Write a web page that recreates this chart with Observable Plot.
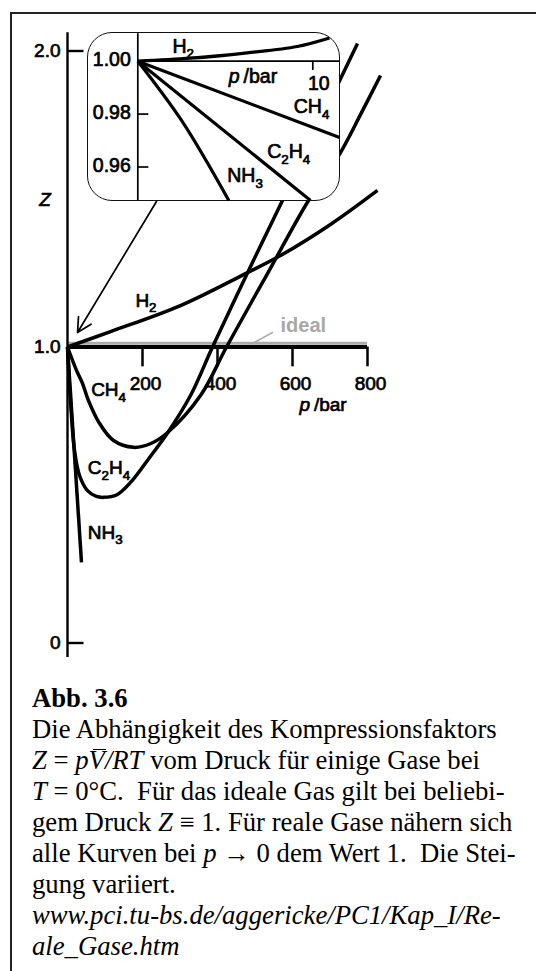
<!DOCTYPE html>
<html>
<head>
<meta charset="utf-8">
<script src="https://cdn.jsdelivr.net/npm/d3@7"></script>
<script src="https://cdn.jsdelivr.net/npm/@observablehq/plot@0.6"></script>
<style>
  html, body { margin: 0; padding: 0; background: white; overflow: hidden; }
  #root { position: relative; width: 536px; height: 971px; overflow: hidden; }
  #frame { position: absolute; left: 10px; top: 12px; width: 700px; height: 1100px;
           border-top: 2px solid #222; border-left: 2px solid #222; box-sizing: border-box; }
  #insetBox { position: absolute; left: 86.7px; top: 32.3px; width: 253.5px; height: 169px;
              border: 1.7px solid #111; border-radius: 25px; background: white; box-sizing: border-box; }
  svg { position: absolute; left: 0; top: 0; }
  #caption { position: absolute; left: 32px; top: 682.5px; font-family: 'Liberation Serif', 'Times New Roman', serif;
             font-size: 26.7px; line-height: 31px; color: #000; }
  #caption div { white-space: pre; height: 31px; }
  .vbar { position: relative; display: inline-block; }
  .vbar::after { content: ""; position: absolute; left: 4px; right: -1px; top: 4px; border-top: 1.4px solid #000; }
</style>
</head>
<body>
<div id="root">
  <div id="frame"></div>
</div>
<script>
// ---------- data: main chart (p in bar, Z dimensionless) ----------
const pressureTicks = [200, 400, 600, 800];
const zTicks = [0, 1, 2];
const zTickLabels = ["0", "1.0", "2.0"];

const h2P   = [0, 114.7, 301.3, 474.7, 568, 701.3, 826.7];
const h2Z   = [1, 1.052, 1.140, 1.248, 1.309, 1.414, 1.529];

const ch4P  = [0, 24, 40, 56, 85.3, 122.7, 176, 222.4, 268, 354.7, 424, 533.3, 642.7, 728, 781.3, 834.7];
const ch4Z  = [1, 0.921, 0.877, 0.819, 0.742, 0.684, 0.661, 0.674, 0.712, 0.836, 1.0, 1.248, 1.495, 1.657, 1.785, 1.917];

const c2h4P = [0, 8, 18.7, 32, 53.3, 77.3, 96, 130.7, 170, 218, 268, 328, 386.7, 482.7, 573.3, 650.7, 729.3, 773.3];
const c2h4Z = [1, 0.819, 0.650, 0.566, 0.515, 0.495, 0.492, 0.500, 0.545, 0.625, 0.712, 0.836, 1.0, 1.258, 1.495, 1.701, 1.910, 2.025];

const nh3P  = [0, 37.3];
const nh3Z  = [1, 0.272];

const gasNames  = ["H2", "CH4", "C2H4", "NH3"];
const labelP    = [181, 63, 54, 54];
const labelZ    = [1.157, 0.854, 0.591, 0.373];

const arrowP = [237.3, 26.7];
const arrowZ = [1.4916, 1.049];

const idealLabelP = 568, idealLabelZ = 1.0726;
const idealPointerP = [546.7, 493.3];
const idealPointerZ = [1.049, 1.0118];

// ---------- data: inset (p up to ~11 bar, Z near 1) ----------
const insetPTicks = [10];
const insetZTicks = [1.00, 0.98, 0.96];

const h2InsetP   = [0, 3.01, 6.25, 9.11, 10.95];
const h2InsetZ   = [1, 1.00113, 1.00318, 1.00556, 1.00880];
const ch4InsetP  = [0, 11.53];
const ch4InsetZ  = [1, 0.97115];
const c2h4InsetP = [0, 9.87];
const c2h4InsetZ = [1, 0.94733];
const nh3InsetP  = [0, 2.5, 5.2];
const nh3InsetZ  = [1, 0.9776, 0.94733];

const insetLabelP = [1.98, 8.91, 7.39, 5.11];
const insetLabelZ = [1.00556, 0.98268, 0.9656, 0.9566];
const insetAxisLabelP = 5.2, insetAxisLabelZ = 0.99422;

// ---------- helpers ----------
const zip = (P, Z) => P.map((p, i) => ({p, z: Z[i]}));
const sans = "'Liberation Sans', Arial, Helvetica, sans-serif";
const NS = "http://www.w3.org/2000/svg";
const ink = {fill: "black", stroke: "black", strokeWidth: 0.7};

function formatTexts(svg) {
  svg.querySelectorAll("text").forEach(t => {
    const s = t.textContent;
    const fs = parseFloat(t.getAttribute("font-size")) || parseFloat(getComputedStyle(t).fontSize) || 18;
    if (/^([A-Z][a-z]?\d*)+$/.test(s) && /\d/.test(s)) {
      t.textContent = "";
      let shifted = 0;
      for (const part of s.match(/[A-Za-z]+|\d+/g)) {
        const ts = document.createElementNS(NS, "tspan");
        ts.textContent = part;
        const sub = /\d/.test(part);
        const target = sub ? fs * 0.3 : 0;
        ts.setAttribute("dy", target - shifted);
        shifted = target;
        if (sub) ts.setAttribute("font-size", fs * 0.74);
        t.appendChild(ts);
      }
    } else if (s === "p/bar") {
      t.textContent = "";
      const a = document.createElementNS(NS, "tspan");
      a.textContent = "p"; a.setAttribute("font-style", "italic");
      const b = document.createElementNS(NS, "tspan");
      b.textContent = "\u2009/bar";
      t.appendChild(a); t.appendChild(b);
    }
  });
}

const lineOpts = {x: "p", y: "z", stroke: "black", strokeWidth: 3.5, curve: "catmull-rom", strokeLinecap: "butt"};

// ---------- main chart ----------
const main = Plot.plot({
  width: 536,
  height: 680,
  x: {domain: [0, 800], range: [67, 367], axis: null},
  y: {domain: [0, 2], range: [642.5, 50.5], axis: null},
  style: {background: "none", fontFamily: sans, overflow: "visible"},
  marks: [
    // ideal gas line (gray) and x axis (black)
    Plot.ruleY([1], {x1: 0, x2: 800, stroke: "#aaaaaa", strokeWidth: 3, dy: -3.8}),
    Plot.ruleY([1], {x1: 0, x2: 800, stroke: "black", strokeWidth: 3.8}),
    // y axis
    Plot.ruleX([0], {y1: -0.049, y2: 2.062, stroke: "black", strokeWidth: 2.4}),
    Plot.ruleY([0, 2], {x1: 0, x2: 44, stroke: "black", strokeWidth: 2.4}),
    Plot.text(zTicks, {x: 0, y: d => d, text: (d, i) => zTickLabels[i], dx: -7, textAnchor: "end",
                       fontSize: 19, ...ink}),
    // x ticks
    Plot.ruleX(pressureTicks, {y1: 1, y2: 0.933, stroke: "black", strokeWidth: 2.5}),
    Plot.text(pressureTicks, {x: d => d, y: 0.877, text: d => String(d), dx: 3, fontSize: 19, ...ink}),
    // curves
    Plot.line(zip(h2P, h2Z), lineOpts),
    Plot.line(zip(ch4P, ch4Z), lineOpts),
    Plot.line(zip(c2h4P, c2h4Z), lineOpts),
    Plot.line(zip(nh3P, nh3Z), {...lineOpts, curve: "linear"}),
    // labels
    Plot.text(gasNames, {x: (d, i) => labelP[i], y: (d, i) => labelZ[i], text: d => d, textAnchor: "start",
                         fontSize: 19, ...ink}),
    Plot.text(["p/bar"], {x: 618.7, y: 0.806, text: d => d, textAnchor: "start", fontSize: 19, ...ink}),
    Plot.text(["Z"], {x: -60, y: 1.498, text: d => d, fontStyle: "italic", fontSize: 19, ...ink}),
    // ideal label
    Plot.line(zip(idealPointerP, idealPointerZ), {x: "p", y: "z", stroke: "#aaaaaa", strokeWidth: 1.6}),
    Plot.text(["ideal"], {x: idealLabelP, y: idealLabelZ, text: d => d, textAnchor: "start",
                          fontSize: 20, fontWeight: "bold", fill: "#a8a8a8"}),
    // arrow from inset to origin
    Plot.arrow([{p1: arrowP[0], z1: arrowZ[0], p2: arrowP[1], z2: arrowZ[1]}],
               {x1: "p1", y1: "z1", x2: "p2", y2: "z2", stroke: "black", strokeWidth: 1.7, headLength: 14, headAngle: 55})
  ]
});
formatTexts(main);

// ---------- inset ----------
const insetLine = {x: "p", y: "z", stroke: "black", strokeWidth: 3.2, curve: "catmull-rom", strokeLinecap: "butt"};
const inset = Plot.plot({
  width: 536,
  height: 215,
  x: {domain: [0, 10], range: [137.3, 312.3], axis: null},
  y: {domain: [0.96, 1.0], range: [166.5, 60.7], axis: null},
  style: {background: "none", fontFamily: sans, overflow: "visible"},
  marks: [
    Plot.ruleX([0], {y1: 1.0104, y2: 0.9472, stroke: "black", strokeWidth: 1.7}),
    Plot.ruleY([1], {x1: 0, x2: 11.54, stroke: "black", strokeWidth: 1.7}),
    Plot.ruleX(insetPTicks, {y1: 1, y2: 0.9965, stroke: "black", strokeWidth: 1.7}),
    Plot.ruleY(insetZTicks.slice(1), {x1: 0, x2: 0.63, stroke: "black", strokeWidth: 1.7}),
    Plot.text(insetZTicks, {x: 0, y: d => d, text: d => d.toFixed(2), dx: -7, dy: -1, textAnchor: "end",
                            fontSize: 19.5, ...ink}),
    Plot.text(insetPTicks, {x: d => d, y: 0.99157, text: d => String(d), dx: 6, fontSize: 19.5, ...ink}),
    Plot.line(zip(h2InsetP, h2InsetZ), insetLine),
    Plot.line(zip(ch4InsetP, ch4InsetZ), {...insetLine, curve: "linear"}),
    Plot.line(zip(c2h4InsetP, c2h4InsetZ), {...insetLine, curve: "linear"}),
    Plot.line(zip(nh3InsetP, nh3InsetZ), insetLine),
    Plot.text(gasNames, {x: (d, i) => insetLabelP[i], y: (d, i) => insetLabelZ[i], text: d => d, textAnchor: "start",
                         fontSize: 19.5, ...ink}),
    Plot.text(["p/bar"], {x: insetAxisLabelP, y: insetAxisLabelZ, text: d => d, textAnchor: "start",
                          fontSize: 19.5, ...ink})
  ]
});
formatTexts(inset);

const root = document.getElementById("root");
root.appendChild(main);
const box = document.createElement("div");
box.id = "insetBox";
root.appendChild(box);
root.appendChild(inset);

// ---------- caption ----------
const cap = document.createElement("div");
cap.id = "caption";
cap.innerHTML = [
  "<div><b>Abb. 3.6</b></div>",
  "<div>Die Abhängigkeit des Kompressionsfaktors</div>",
  "<div><i>Z</i> = <i>p</i><i class=\"vbar\">V</i><i>/RT</i> vom Druck für einige Gase bei</div>",
  "<div><i>T</i> = 0°C.  Für das ideale Gas gilt bei beliebi-</div>",
  "<div>gem Druck <i>Z</i> ≡ 1. Für reale Gase nähern sich</div>",
  "<div>alle Kurven bei <i>p</i> → 0 dem Wert 1.  Die Stei-</div>",
  "<div>gung variiert.</div>",
  "<div><i>www.pci.tu-bs.de/aggericke/PC1/Kap_I/Re-</i></div>",
  "<div><i>ale_Gase.htm</i></div>"
].join("");
root.appendChild(cap);
</script>
</body>
</html>
